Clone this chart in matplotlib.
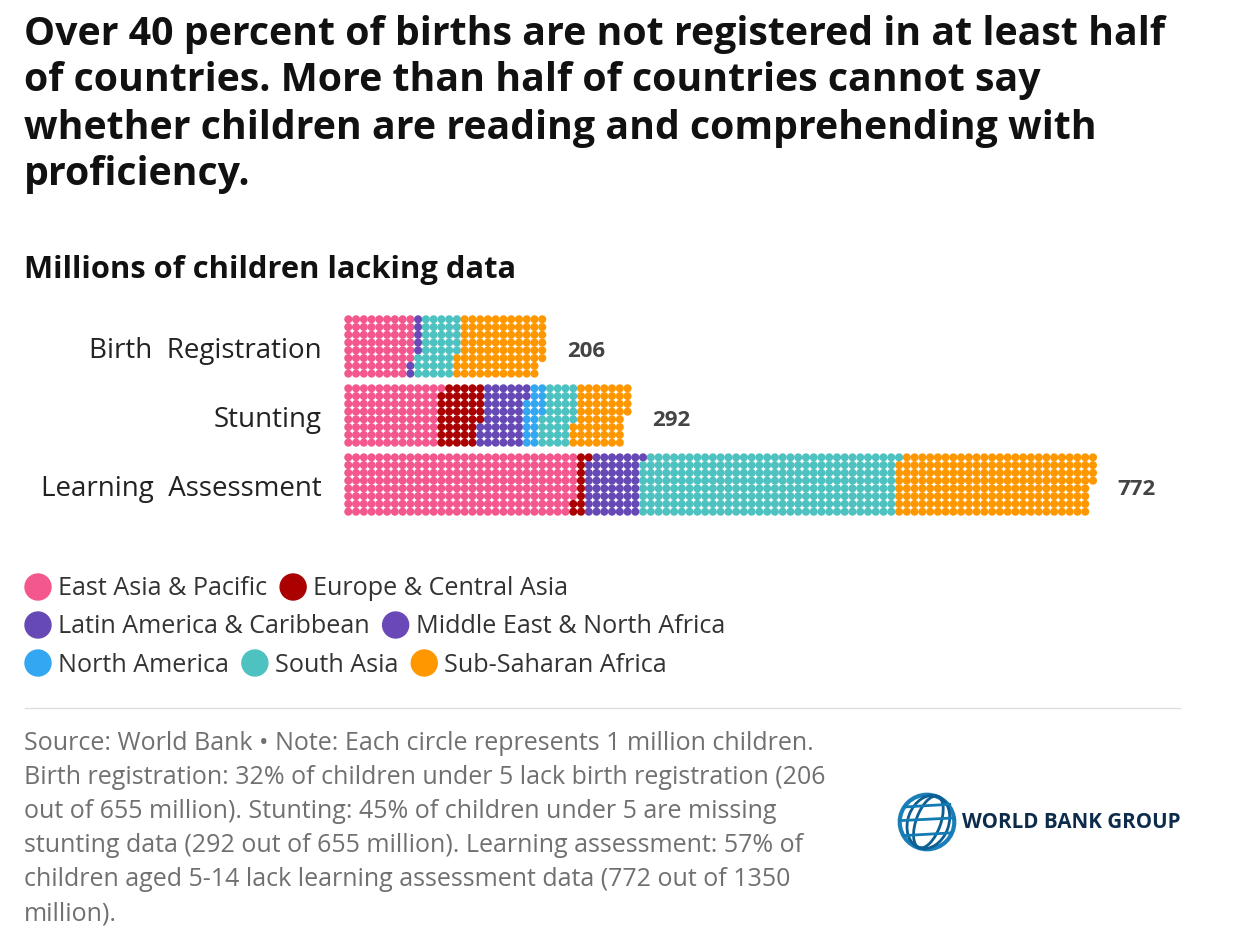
import matplotlib
matplotlib.use("Agg")
import matplotlib.pyplot as plt
from matplotlib.patches import Circle, Ellipse

plt.rcParams['font.family'] = ['Open Sans', 'DejaVu Sans']

W, H = 1255, 937

# ---- data -------------------------------------------------------------
categories = ["Birth  Registration", "Stunting", "Learning  Assessment"]
totals = [206, 292, 772]

regions = ["East Asia & Pacific", "Europe & Central Asia",
           "Latin America & Caribbean", "Middle East & North Africa",
           "North America", "South Asia", "Sub-Saharan Africa"]
region_colors = ["#f3578e", "#aa0000", "#6649b5", "#6a48b8",
                 "#34a7f2", "#4ec2c0", "#ff9800"]

# millions of children lacking data (birth reg., stunting, learning)
east_asia_pacific = [70, 97, 238]
europe_central_asia = [0, 44, 11]
latin_america_caribbean = [0, 45, 56]
middle_east_north_africa = [7, 0, 0]
north_america = [0, 18, 0]
south_asia = [40, 33, 264]
sub_saharan_africa = [89, 55, 203]

series = [east_asia_pacific, europe_central_asia, latin_america_caribbean,
          middle_east_north_africa, north_america, south_asia,
          sub_saharan_africa]

title_lines = ["Over 40 percent of births are not registered in at least half",
               "of countries. More than half of countries cannot say",
               "whether children are reading and comprehending with",
               "proficiency."]
subtitle = "Millions of children lacking data"
source_lines = [
    "Source: World Bank \u2022 Note: Each circle represents 1 million children.",
    "Birth registration: 32% of children under 5 lack birth registration (206",
    "out of 655 million). Stunting: 45% of children under 5 are missing",
    "stunting data (292 out of 655 million). Learning assessment: 57% of",
    "children aged 5-14 lack learning assessment data (772 out of 1350",
    "million).",
]

ROWS = 8          # dots per column
CELL = 7.757      # px between dot centres
GAP = 8.9         # rows between category blocks


def fx(px):
    return px / W


def fy(py):
    return 1 - py / H


fig = plt.figure(figsize=(W / 100, H / 100), dpi=100)
fig.patch.set_facecolor("white")

# ---- title ------------------------------------------------------------
for i, line in enumerate(title_lines):
    fig.text(fx(24), fy(34 + i * 47), line, fontsize=28.3, fontweight="bold",
             color="#111111", va="center", ha="left")
fig.text(fx(24), fy(270), subtitle, fontsize=22.2, fontweight="bold",
         color="#111111", va="center", ha="left")

# ---- waffle -----------------------------------------------------------
x0_px, y0_px = 348.3, 320.3
left_px, right_px, top_px, bot_px = 330, 1180, 310, 525
ax = fig.add_axes([fx(left_px), fy(bot_px), fx(right_px - left_px),
                   (bot_px - top_px) / H])
ax.set_xlim((left_px - x0_px) / CELL, (right_px - x0_px) / CELL)
ax.set_ylim((bot_px - y0_px) / CELL, (top_px - y0_px) / CELL)
ax.axis("off")

for k, cat in enumerate(categories):
    colors = []
    for s, c in zip(series, region_colors):
        colors += [c] * s[k]
    xs = [i // ROWS for i in range(len(colors))]
    ys = [k * GAP + i % ROWS for i in range(len(colors))]
    ax.scatter(xs, ys, s=34, c=colors, linewidths=0)
    yc = k * GAP + (ROWS - 1) / 2 + 0.5
    ax.text((322 - x0_px) / CELL, yc, cat, ha="right", va="center",
            fontsize=20, color="#222222", clip_on=False)
    ncol = (totals[k] + ROWS - 1) // ROWS
    ax.text(ncol - 1 + 3.2, yc, str(totals[k]), ha="left", va="center",
            fontsize=16, fontweight="bold", color="#444444")

# ---- legend (flow layout) ---------------------------------------------
renderer = fig.canvas.get_renderer()
lx, ly = 25, 588
for name, c in zip(regions, region_colors):
    t = fig.text(fx(lx + 33), fy(ly + 1), name, fontsize=18.1,
                 color="#333333", va="center", ha="left")
    w = t.get_window_extent(renderer).width
    if lx + 33 + w > 750:
        lx, ly = 25, ly + 38
        t.set_position((fx(lx + 33), fy(ly + 1)))
    fig.patches.append(Ellipse((fx(lx + 13), fy(ly)), 26 / W, 26 / H,
                               color=c, transform=fig.transFigure))
    lx = lx + 33 + w + 13

# ---- separator + source -----------------------------------------------
fig.add_artist(plt.Line2D([fx(25), fx(1180)], [fy(709), fy(709)],
                          color="#dddddd", linewidth=1))
for i, line in enumerate(source_lines):
    fig.text(fx(24), fy(744 + i * 34), line, fontsize=18, color="#707070",
             va="center", ha="left")

# ---- logo -------------------------------------------------------------
lax = fig.add_axes([fx(897), fy(853), 60 / W, 60 / H])
lax.set_xlim(-1.1, 1.1)
lax.set_ylim(-1.1, 1.1)
lax.set_aspect("equal")
lax.axis("off")
lax.add_patch(Circle((0, 0), 1, fill=False, lw=3, ec="#1a7fb8"))
for wd in (0.9, 1.5):
    lax.add_patch(Ellipse((0.05, 0), wd, 2, angle=-20, fill=False, lw=2,
                          ec="#0d5f93"))
for yy in (-0.5, 0.05, 0.55):
    half = (1 - yy ** 2) ** 0.5
    lax.plot([-half, half], [yy, yy + 0.1], color="#127bb3", lw=2)
fig.text(fx(962), fy(822), "WORLD BANK GROUP", fontsize=14.8,
         fontweight="bold", color="#0d2c4c", va="center", ha="left")

fig.savefig("out.png", dpi=100)
